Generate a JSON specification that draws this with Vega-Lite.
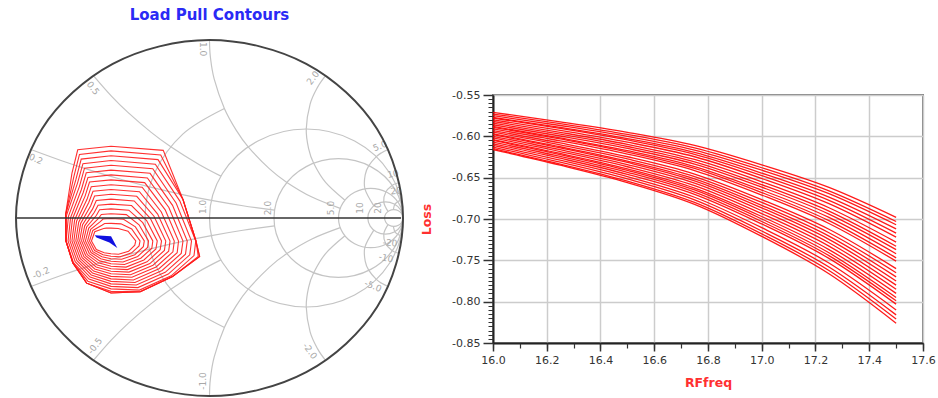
{
"$schema":"https://vega.github.io/schema/vega-lite/v6.json",
"padding":{"left":12,"top":8,"right":1,"bottom":0},
"background":"white",
"spacing":12,
"config":{"view":{"stroke":null},"font":"DejaVu Sans","axis":{"labelFont":"DejaVu Sans","titleFont":"DejaVu Sans"},
"locale":{"number":{"decimal":".","thousands":",","grouping":[3],"currency":["$",""],"minus":"-"}}},
"datasets":{
"rc":[
{"p":"r1","gx":1,"gy":0},{"p":"r1","gx":0.933,"gy":0.25},{"p":"r1","gx":0.75,"gy":0.433},{"p":"r1","gx":0.5,"gy":0.5},{"p":"r1","gx":0.25,"gy":0.433},{"p":"r1","gx":0.067,"gy":0.25},{"p":"r1","gx":0,"gy":0},{"p":"r1","gx":0.067,"gy":-0.25},{"p":"r1","gx":0.25,"gy":-0.433},{"p":"r1","gx":0.5,"gy":-0.5},{"p":"r1","gx":0.75,"gy":-0.433},{"p":"r1","gx":0.933,"gy":-0.25},
{"p":"r2","gx":1,"gy":0},{"p":"r2","gx":0.9554,"gy":0.1667},{"p":"r2","gx":0.8333,"gy":0.2887},{"p":"r2","gx":0.6667,"gy":0.3333},{"p":"r2","gx":0.5,"gy":0.2887},{"p":"r2","gx":0.378,"gy":0.1667},{"p":"r2","gx":0.3333,"gy":0},{"p":"r2","gx":0.378,"gy":-0.1667},{"p":"r2","gx":0.5,"gy":-0.2887},{"p":"r2","gx":0.6667,"gy":-0.3333},{"p":"r2","gx":0.8333,"gy":-0.2887},{"p":"r2","gx":0.9554,"gy":-0.1667},
{"p":"r5","gx":1,"gy":0},{"p":"r5","gx":0.9776,"gy":0.0833},{"p":"r5","gx":0.9167,"gy":0.1443},{"p":"r5","gx":0.8333,"gy":0.1667},{"p":"r5","gx":0.75,"gy":0.1443},{"p":"r5","gx":0.689,"gy":0.0833},{"p":"r5","gx":0.6667,"gy":0},{"p":"r5","gx":0.689,"gy":-0.0833},{"p":"r5","gx":0.75,"gy":-0.1443},{"p":"r5","gx":0.8333,"gy":-0.1667},{"p":"r5","gx":0.9167,"gy":-0.1443},{"p":"r5","gx":0.9776,"gy":-0.0833},
{"p":"r10","gx":1,"gy":0},{"p":"r10","gx":0.9878,"gy":0.0455},{"p":"r10","gx":0.9546,"gy":0.0787},{"p":"r10","gx":0.9091,"gy":0.0909},{"p":"r10","gx":0.8636,"gy":0.0787},{"p":"r10","gx":0.8304,"gy":0.0455},{"p":"r10","gx":0.8182,"gy":0},{"p":"r10","gx":0.8304,"gy":-0.0455},{"p":"r10","gx":0.8636,"gy":-0.0787},{"p":"r10","gx":0.9091,"gy":-0.0909},{"p":"r10","gx":0.9546,"gy":-0.0787},{"p":"r10","gx":0.9878,"gy":-0.0455},
{"p":"r20","gx":1,"gy":0},{"p":"r20","gx":0.9936,"gy":0.0238},{"p":"r20","gx":0.9762,"gy":0.0412},{"p":"r20","gx":0.9524,"gy":0.0476},{"p":"r20","gx":0.9286,"gy":0.0412},{"p":"r20","gx":0.9112,"gy":0.0238},{"p":"r20","gx":0.9048,"gy":0},{"p":"r20","gx":0.9112,"gy":-0.0238},{"p":"r20","gx":0.9286,"gy":-0.0412},{"p":"r20","gx":0.9524,"gy":-0.0476},{"p":"r20","gx":0.9762,"gy":-0.0412},{"p":"r20","gx":0.9936,"gy":-0.0238}
],
"oc":[
{"gx":1,"gy":0},{"gx":0.866,"gy":0.5},{"gx":0.5,"gy":0.866},{"gx":0,"gy":1},{"gx":-0.5,"gy":0.866},{"gx":-0.866,"gy":0.5},{"gx":-1,"gy":0},{"gx":-0.866,"gy":-0.5},{"gx":-0.5,"gy":-0.866},{"gx":0,"gy":-1},{"gx":0.5,"gy":-0.866},{"gx":0.866,"gy":-0.5}
],
"ar":[
{"p":"r05","gx":0.0773,"gy":0.6154},{"p":"r05","gx":-0.1381,"gy":0.4714},{"p":"r05","gx":-0.2826,"gy":0.2551},{"p":"r05","gx":-0.3333,"gy":0},{"p":"r05","gx":-0.2826,"gy":-0.2551},{"p":"r05","gx":-0.1381,"gy":-0.4714},{"p":"r05","gx":0.0773,"gy":-0.6154},
{"p":"x02","gx":-0.9231,"gy":0.3846},{"p":"x02","gx":-0.76,"gy":0.32},{"p":"x02","gx":-0.6216,"gy":0.2703},{"p":"x02","gx":-0.4497,"gy":0.2148},{"p":"x02","gx":-0.31,"gy":0.1747},{"p":"x02","gx":-0.1281,"gy":0.1289},{"p":"x02","gx":0.0099,"gy":0.099},{"p":"x02","gx":0.1724,"gy":0.069},{"p":"x02","gx":0.3363,"gy":0.0442},
{"p":"xm02","gx":-0.9231,"gy":-0.3846},{"p":"xm02","gx":-0.76,"gy":-0.32},{"p":"xm02","gx":-0.6216,"gy":-0.2703},{"p":"xm02","gx":-0.4497,"gy":-0.2148},{"p":"xm02","gx":-0.31,"gy":-0.1747},{"p":"xm02","gx":-0.1281,"gy":-0.1289},{"p":"xm02","gx":0.0099,"gy":-0.099},{"p":"xm02","gx":0.1724,"gy":-0.069},{"p":"xm02","gx":0.3363,"gy":-0.0442},
{"p":"x05","gx":-0.6,"gy":0.8},{"p":"x05","gx":-0.5068,"gy":0.6849},{"p":"x05","gx":-0.4201,"gy":0.5917},{"p":"x05","gx":-0.3028,"gy":0.4825},{"p":"x05","gx":-0.2,"gy":0.4},{"p":"x05","gx":-0.0566,"gy":0.3019},{"p":"x05","gx":0.0588,"gy":0.2353},
{"p":"xm05","gx":-0.6,"gy":-0.8},{"p":"xm05","gx":-0.5068,"gy":-0.6849},{"p":"xm05","gx":-0.4201,"gy":-0.5917},{"p":"xm05","gx":-0.3028,"gy":-0.4825},{"p":"xm05","gx":-0.2,"gy":-0.4},{"p":"xm05","gx":-0.0566,"gy":-0.3019},{"p":"xm05","gx":0.0588,"gy":-0.2353},
{"p":"x1","gx":0,"gy":1},{"p":"x1","gx":0.0045,"gy":0.905},{"p":"x1","gx":0.0244,"gy":0.7805},{"p":"x1","gx":0.0769,"gy":0.6154},{"p":"x1","gx":0.1385,"gy":0.4923},{"p":"x1","gx":0.2,"gy":0.4},{"p":"x1","gx":0.3103,"gy":0.2759},{"p":"x1","gx":0.4,"gy":0.2},{"p":"x1","gx":0.5294,"gy":0.1176},{"p":"x1","gx":0.6757,"gy":0.0541},
{"p":"xm1","gx":0,"gy":-1},{"p":"xm1","gx":0.0045,"gy":-0.905},{"p":"xm1","gx":0.0244,"gy":-0.7805},{"p":"xm1","gx":0.0769,"gy":-0.6154},{"p":"xm1","gx":0.1385,"gy":-0.4923},{"p":"xm1","gx":0.2,"gy":-0.4},{"p":"xm1","gx":0.3103,"gy":-0.2759},{"p":"xm1","gx":0.4,"gy":-0.2},{"p":"xm1","gx":0.5294,"gy":-0.1176},{"p":"xm1","gx":0.6757,"gy":-0.0541},
{"p":"x2","gx":0.6,"gy":0.8},{"p":"x2","gx":0.5588,"gy":0.7353},{"p":"x2","gx":0.52,"gy":0.64},{"p":"x2","gx":0.5,"gy":0.5},{"p":"x2","gx":0.5122,"gy":0.3902},{"p":"x2","gx":0.5385,"gy":0.3077},{"p":"x2","gx":0.6,"gy":0.2},{"p":"x2","gx":0.7,"gy":0.1},
{"p":"xm2","gx":0.6,"gy":-0.8},{"p":"xm2","gx":0.5588,"gy":-0.7353},{"p":"xm2","gx":0.52,"gy":-0.64},{"p":"xm2","gx":0.5,"gy":-0.5},{"p":"xm2","gx":0.5122,"gy":-0.3902},{"p":"xm2","gx":0.5385,"gy":-0.3077},{"p":"xm2","gx":0.6,"gy":-0.2},{"p":"xm2","gx":0.7,"gy":-0.1},
{"p":"x5","gx":0.9231,"gy":0.3846},{"p":"x5","gx":0.8899,"gy":0.367},{"p":"x5","gx":0.8621,"gy":0.3448},{"p":"x5","gx":0.8235,"gy":0.2941},{"p":"x5","gx":0.8049,"gy":0.2439},{"p":"x5","gx":0.8033,"gy":0.1639},{"p":"x5","gx":0.8493,"gy":0.0685},
{"p":"xm5","gx":0.9231,"gy":-0.3846},{"p":"xm5","gx":0.8899,"gy":-0.367},{"p":"xm5","gx":0.8621,"gy":-0.3448},{"p":"xm5","gx":0.8235,"gy":-0.2941},{"p":"xm5","gx":0.8049,"gy":-0.2439},{"p":"xm5","gx":0.8033,"gy":-0.1639},{"p":"xm5","gx":0.8493,"gy":-0.0685},
{"p":"x10","gx":0.9802,"gy":0.198},{"p":"x10","gx":0.9615,"gy":0.1923},{"p":"x10","gx":0.945,"gy":0.1835},{"p":"x10","gx":0.9118,"gy":0.1471},{"p":"x10","gx":0.9005,"gy":0.0905},{"p":"x10","gx":0.9224,"gy":0.037},
{"p":"xm10","gx":0.9802,"gy":-0.198},{"p":"xm10","gx":0.9615,"gy":-0.1923},{"p":"xm10","gx":0.945,"gy":-0.1835},{"p":"xm10","gx":0.9118,"gy":-0.1471},{"p":"xm10","gx":0.9005,"gy":-0.0905},{"p":"xm10","gx":0.9224,"gy":-0.037},
{"p":"x20","gx":0.995,"gy":0.0998},{"p":"x20","gx":0.9853,"gy":0.0978},{"p":"x20","gx":0.9725,"gy":0.0917},{"p":"x20","gx":0.9578,"gy":0.0768},{"p":"x20","gx":0.9501,"gy":0.0476},
{"p":"xm20","gx":0.995,"gy":-0.0998},{"p":"xm20","gx":0.9853,"gy":-0.0978},{"p":"xm20","gx":0.9725,"gy":-0.0917},{"p":"xm20","gx":0.9578,"gy":-0.0768},{"p":"xm20","gx":0.9501,"gy":-0.0476}
],
"lab":[
{"t":"0.2","gx":-0.897,"gy":0.331,"a":22.6},
{"t":"0.5","gx":-0.602,"gy":0.73,"a":53.1},
{"t":"1.0","gx":-0.034,"gy":0.949,"a":90},
{"t":"2.0","gx":0.535,"gy":0.787,"a":-53.1},
{"t":"5.0","gx":0.881,"gy":0.404,"a":-22.6},
{"t":"10","gx":0.948,"gy":0.247,"a":-11.4},
{"t":"20","gx":0.964,"gy":0.152,"a":-5.7},
{"t":"-0.2","gx":-0.871,"gy":-0.309,"a":-22.6},
{"t":"-0.5","gx":-0.592,"gy":-0.719,"a":-53.1},
{"t":"-1.0","gx":-0.034,"gy":-0.916,"a":-90},
{"t":"-2.0","gx":0.519,"gy":-0.747,"a":53.1},
{"t":"-5.0","gx":0.845,"gy":-0.382,"a":22.6},
{"t":"-10","gx":0.912,"gy":-0.225,"a":11.4},
{"t":"-20","gx":0.933,"gy":-0.14,"a":5.7},
{"t":"1.0","gx":-0.034,"gy":0.062,"a":-90},
{"t":"2.0","gx":0.302,"gy":0.056,"a":-90},
{"t":"5.0","gx":0.628,"gy":0.056,"a":-90},
{"t":"10","gx":0.776,"gy":0.056,"a":-90},
{"t":"20","gx":0.871,"gy":0.056,"a":-90}
],
"ct":[
{"k":0,"gx":-0.381,"gy":-0.129},{"k":0,"gx":-0.386,"gy":-0.153},{"k":0,"gx":-0.418,"gy":-0.187},{"k":0,"gx":-0.47,"gy":-0.204},{"k":0,"gx":-0.509,"gy":-0.201},{"k":0,"gx":-0.544,"gy":-0.195},{"k":0,"gx":-0.585,"gy":-0.177},{"k":0,"gx":-0.61,"gy":-0.129},{"k":0,"gx":-0.593,"gy":-0.077},{"k":0,"gx":-0.547,"gy":-0.059},{"k":0,"gx":-0.533,"gy":-0.057},{"k":0,"gx":-0.509,"gy":-0.057},{"k":0,"gx":-0.472,"gy":-0.059},{"k":0,"gx":-0.421,"gy":-0.074},
{"k":1,"gx":-0.359,"gy":-0.129},{"k":1,"gx":-0.364,"gy":-0.157},{"k":1,"gx":-0.402,"gy":-0.196},{"k":1,"gx":-0.462,"gy":-0.218},{"k":1,"gx":-0.509,"gy":-0.215},{"k":1,"gx":-0.55,"gy":-0.207},{"k":1,"gx":-0.594,"gy":-0.183},{"k":1,"gx":-0.62,"gy":-0.129},{"k":1,"gx":-0.603,"gy":-0.07},{"k":1,"gx":-0.556,"gy":-0.041},{"k":1,"gx":-0.542,"gy":-0.031},{"k":1,"gx":-0.509,"gy":-0.03},{"k":1,"gx":-0.458,"gy":-0.033},{"k":1,"gx":-0.402,"gy":-0.062},
{"k":2,"gx":-0.337,"gy":-0.129},{"k":2,"gx":-0.342,"gy":-0.161},{"k":2,"gx":-0.386,"gy":-0.206},{"k":2,"gx":-0.454,"gy":-0.232},{"k":2,"gx":-0.509,"gy":-0.229},{"k":2,"gx":-0.556,"gy":-0.218},{"k":2,"gx":-0.603,"gy":-0.189},{"k":2,"gx":-0.63,"gy":-0.129},{"k":2,"gx":-0.614,"gy":-0.064},{"k":2,"gx":-0.566,"gy":-0.022},{"k":2,"gx":-0.55,"gy":-0.006},{"k":2,"gx":-0.509,"gy":-0.003},{"k":2,"gx":-0.444,"gy":-0.007},{"k":2,"gx":-0.383,"gy":-0.05},
{"k":3,"gx":-0.315,"gy":-0.129},{"k":3,"gx":-0.32,"gy":-0.165},{"k":3,"gx":-0.371,"gy":-0.216},{"k":3,"gx":-0.447,"gy":-0.247},{"k":3,"gx":-0.509,"gy":-0.243},{"k":3,"gx":-0.562,"gy":-0.229},{"k":3,"gx":-0.612,"gy":-0.194},{"k":3,"gx":-0.641,"gy":-0.129},{"k":3,"gx":-0.624,"gy":-0.057},{"k":3,"gx":-0.575,"gy":-0.004},{"k":3,"gx":-0.559,"gy":0.02},{"k":3,"gx":-0.509,"gy":0.024},{"k":3,"gx":-0.43,"gy":0.019},{"k":3,"gx":-0.364,"gy":-0.038},
{"k":4,"gx":-0.293,"gy":-0.129},{"k":4,"gx":-0.298,"gy":-0.17},{"k":4,"gx":-0.355,"gy":-0.226},{"k":4,"gx":-0.439,"gy":-0.261},{"k":4,"gx":-0.509,"gy":-0.257},{"k":4,"gx":-0.568,"gy":-0.241},{"k":4,"gx":-0.621,"gy":-0.2},{"k":4,"gx":-0.651,"gy":-0.129},{"k":4,"gx":-0.635,"gy":-0.05},{"k":4,"gx":-0.585,"gy":0.014},{"k":4,"gx":-0.568,"gy":0.046},{"k":4,"gx":-0.509,"gy":0.051},{"k":4,"gx":-0.417,"gy":0.044},{"k":4,"gx":-0.345,"gy":-0.026},
{"k":5,"gx":-0.27,"gy":-0.129},{"k":5,"gx":-0.277,"gy":-0.174},{"k":5,"gx":-0.339,"gy":-0.236},{"k":5,"gx":-0.431,"gy":-0.276},{"k":5,"gx":-0.509,"gy":-0.271},{"k":5,"gx":-0.574,"gy":-0.252},{"k":5,"gx":-0.631,"gy":-0.206},{"k":5,"gx":-0.661,"gy":-0.129},{"k":5,"gx":-0.645,"gy":-0.044},{"k":5,"gx":-0.595,"gy":0.032},{"k":5,"gx":-0.576,"gy":0.072},{"k":5,"gx":-0.509,"gy":0.078},{"k":5,"gx":-0.403,"gy":0.07},{"k":5,"gx":-0.325,"gy":-0.014},
{"k":6,"gx":-0.248,"gy":-0.129},{"k":6,"gx":-0.255,"gy":-0.178},{"k":6,"gx":-0.323,"gy":-0.246},{"k":6,"gx":-0.424,"gy":-0.29},{"k":6,"gx":-0.509,"gy":-0.285},{"k":6,"gx":-0.58,"gy":-0.264},{"k":6,"gx":-0.64,"gy":-0.211},{"k":6,"gx":-0.671,"gy":-0.129},{"k":6,"gx":-0.656,"gy":-0.037},{"k":6,"gx":-0.604,"gy":0.051},{"k":6,"gx":-0.585,"gy":0.098},{"k":6,"gx":-0.509,"gy":0.106},{"k":6,"gx":-0.389,"gy":0.096},{"k":6,"gx":-0.306,"gy":-0.002},
{"k":7,"gx":-0.226,"gy":-0.129},{"k":7,"gx":-0.233,"gy":-0.182},{"k":7,"gx":-0.308,"gy":-0.256},{"k":7,"gx":-0.416,"gy":-0.304},{"k":7,"gx":-0.509,"gy":-0.299},{"k":7,"gx":-0.586,"gy":-0.275},{"k":7,"gx":-0.649,"gy":-0.217},{"k":7,"gx":-0.681,"gy":-0.129},{"k":7,"gx":-0.666,"gy":-0.031},{"k":7,"gx":-0.614,"gy":0.069},{"k":7,"gx":-0.594,"gy":0.124},{"k":7,"gx":-0.509,"gy":0.133},{"k":7,"gx":-0.376,"gy":0.122},{"k":7,"gx":-0.287,"gy":0.01},
{"k":8,"gx":-0.204,"gy":-0.129},{"k":8,"gx":-0.211,"gy":-0.186},{"k":8,"gx":-0.292,"gy":-0.265},{"k":8,"gx":-0.408,"gy":-0.319},{"k":8,"gx":-0.509,"gy":-0.313},{"k":8,"gx":-0.593,"gy":-0.286},{"k":8,"gx":-0.658,"gy":-0.223},{"k":8,"gx":-0.691,"gy":-0.129},{"k":8,"gx":-0.676,"gy":-0.024},{"k":8,"gx":-0.624,"gy":0.087},{"k":8,"gx":-0.602,"gy":0.15},{"k":8,"gx":-0.509,"gy":0.16},{"k":8,"gx":-0.362,"gy":0.148},{"k":8,"gx":-0.268,"gy":0.022},
{"k":9,"gx":-0.182,"gy":-0.129},{"k":9,"gx":-0.189,"gy":-0.19},{"k":9,"gx":-0.276,"gy":-0.275},{"k":9,"gx":-0.401,"gy":-0.333},{"k":9,"gx":-0.509,"gy":-0.328},{"k":9,"gx":-0.599,"gy":-0.298},{"k":9,"gx":-0.667,"gy":-0.228},{"k":9,"gx":-0.701,"gy":-0.129},{"k":9,"gx":-0.687,"gy":-0.018},{"k":9,"gx":-0.633,"gy":0.105},{"k":9,"gx":-0.611,"gy":0.176},{"k":9,"gx":-0.509,"gy":0.187},{"k":9,"gx":-0.348,"gy":0.173},{"k":9,"gx":-0.249,"gy":0.034},
{"k":10,"gx":-0.16,"gy":-0.129},{"k":10,"gx":-0.167,"gy":-0.195},{"k":10,"gx":-0.261,"gy":-0.285},{"k":10,"gx":-0.393,"gy":-0.348},{"k":10,"gx":-0.509,"gy":-0.342},{"k":10,"gx":-0.605,"gy":-0.309},{"k":10,"gx":-0.676,"gy":-0.234},{"k":10,"gx":-0.711,"gy":-0.129},{"k":10,"gx":-0.697,"gy":-0.011},{"k":10,"gx":-0.643,"gy":0.123},{"k":10,"gx":-0.62,"gy":0.202},{"k":10,"gx":-0.509,"gy":0.214},{"k":10,"gx":-0.335,"gy":0.199},{"k":10,"gx":-0.229,"gy":0.046},
{"k":11,"gx":-0.137,"gy":-0.129},{"k":11,"gx":-0.146,"gy":-0.199},{"k":11,"gx":-0.245,"gy":-0.295},{"k":11,"gx":-0.385,"gy":-0.362},{"k":11,"gx":-0.509,"gy":-0.356},{"k":11,"gx":-0.611,"gy":-0.32},{"k":11,"gx":-0.685,"gy":-0.24},{"k":11,"gx":-0.721,"gy":-0.129},{"k":11,"gx":-0.708,"gy":-0.004},{"k":11,"gx":-0.653,"gy":0.142},{"k":11,"gx":-0.628,"gy":0.228},{"k":11,"gx":-0.509,"gy":0.242},{"k":11,"gx":-0.321,"gy":0.225},{"k":11,"gx":-0.21,"gy":0.059},
{"k":12,"gx":-0.115,"gy":-0.129},{"k":12,"gx":-0.124,"gy":-0.203},{"k":12,"gx":-0.229,"gy":-0.305},{"k":12,"gx":-0.378,"gy":-0.376},{"k":12,"gx":-0.509,"gy":-0.37},{"k":12,"gx":-0.617,"gy":-0.332},{"k":12,"gx":-0.694,"gy":-0.245},{"k":12,"gx":-0.731,"gy":-0.129},{"k":12,"gx":-0.718,"gy":0.002},{"k":12,"gx":-0.662,"gy":0.16},{"k":12,"gx":-0.637,"gy":0.254},{"k":12,"gx":-0.509,"gy":0.269},{"k":12,"gx":-0.307,"gy":0.251},{"k":12,"gx":-0.191,"gy":0.071},
{"k":13,"gx":-0.093,"gy":-0.129},{"k":13,"gx":-0.102,"gy":-0.207},{"k":13,"gx":-0.213,"gy":-0.315},{"k":13,"gx":-0.37,"gy":-0.391},{"k":13,"gx":-0.509,"gy":-0.384},{"k":13,"gx":-0.623,"gy":-0.343},{"k":13,"gx":-0.703,"gy":-0.251},{"k":13,"gx":-0.741,"gy":-0.129},{"k":13,"gx":-0.729,"gy":0.009},{"k":13,"gx":-0.672,"gy":0.178},{"k":13,"gx":-0.646,"gy":0.28},{"k":13,"gx":-0.509,"gy":0.296},{"k":13,"gx":-0.293,"gy":0.277},{"k":13,"gx":-0.172,"gy":0.083},
{"k":14,"gx":-0.071,"gy":-0.129},{"k":14,"gx":-0.08,"gy":-0.211},{"k":14,"gx":-0.198,"gy":-0.325},{"k":14,"gx":-0.362,"gy":-0.405},{"k":14,"gx":-0.509,"gy":-0.398},{"k":14,"gx":-0.629,"gy":-0.355},{"k":14,"gx":-0.706,"gy":-0.253},{"k":14,"gx":-0.742,"gy":-0.129},{"k":14,"gx":-0.739,"gy":0.015},{"k":14,"gx":-0.682,"gy":0.196},{"k":14,"gx":-0.654,"gy":0.305},{"k":14,"gx":-0.509,"gy":0.323},{"k":14,"gx":-0.28,"gy":0.302},{"k":14,"gx":-0.153,"gy":0.095},
{"k":15,"gx":-0.07,"gy":-0.129},{"k":15,"gx":-0.058,"gy":-0.216},{"k":15,"gx":-0.191,"gy":-0.329},{"k":15,"gx":-0.358,"gy":-0.414},{"k":15,"gx":-0.509,"gy":-0.412},{"k":15,"gx":-0.635,"gy":-0.366},{"k":15,"gx":-0.706,"gy":-0.253},{"k":15,"gx":-0.742,"gy":-0.129},{"k":15,"gx":-0.744,"gy":0.018},{"k":15,"gx":-0.691,"gy":0.214},{"k":15,"gx":-0.663,"gy":0.331},{"k":15,"gx":-0.509,"gy":0.35},{"k":15,"gx":-0.266,"gy":0.328},{"k":15,"gx":-0.137,"gy":0.104},
{"k":16,"gx":-0.07,"gy":-0.129},{"k":16,"gx":-0.051,"gy":-0.217},{"k":16,"gx":-0.191,"gy":-0.329},{"k":16,"gx":-0.358,"gy":-0.414},{"k":16,"gx":-0.509,"gy":-0.421},{"k":16,"gx":-0.635,"gy":-0.366},{"k":16,"gx":-0.706,"gy":-0.253},{"k":16,"gx":-0.742,"gy":-0.129},{"k":16,"gx":-0.744,"gy":0.018},{"k":16,"gx":-0.701,"gy":0.232},{"k":16,"gx":-0.672,"gy":0.357},{"k":16,"gx":-0.509,"gy":0.377},{"k":16,"gx":-0.252,"gy":0.354},{"k":16,"gx":-0.137,"gy":0.104},
{"k":17,"gx":-0.07,"gy":-0.129},{"k":17,"gx":-0.051,"gy":-0.217},{"k":17,"gx":-0.191,"gy":-0.329},{"k":17,"gx":-0.358,"gy":-0.414},{"k":17,"gx":-0.509,"gy":-0.421},{"k":17,"gx":-0.635,"gy":-0.366},{"k":17,"gx":-0.706,"gy":-0.253},{"k":17,"gx":-0.742,"gy":-0.129},{"k":17,"gx":-0.744,"gy":0.018},{"k":17,"gx":-0.711,"gy":0.251},{"k":17,"gx":-0.681,"gy":0.383},{"k":17,"gx":-0.509,"gy":0.403},{"k":17,"gx":-0.239,"gy":0.38},{"k":17,"gx":-0.137,"gy":0.104}
],
"mk":[{"gx":-0.533,"gy":-0.127}],
"ax":[{"gx":-1,"gy":0},{"gx":0.99,"gy":0}],
"loss":[
{"c":1,"f":16,"v":-0.571},{"c":1,"f":16.25,"v":-0.5824},{"c":1,"f":16.5,"v":-0.5951},{"c":1,"f":16.75,"v":-0.611},{"c":1,"f":17,"v":-0.6345},{"c":1,"f":17.25,"v":-0.6618},{"c":1,"f":17.5,"v":-0.698},
{"c":2,"f":16,"v":-0.573},{"c":2,"f":16.25,"v":-0.5847},{"c":2,"f":16.5,"v":-0.5977},{"c":2,"f":16.75,"v":-0.614},{"c":2,"f":17,"v":-0.638},{"c":2,"f":17.25,"v":-0.666},{"c":2,"f":17.5,"v":-0.703},
{"c":3,"f":16,"v":-0.575},{"c":3,"f":16.25,"v":-0.5869},{"c":3,"f":16.5,"v":-0.6001},{"c":3,"f":16.75,"v":-0.6166},{"c":3,"f":17,"v":-0.641},{"c":3,"f":17.25,"v":-0.6694},{"c":3,"f":17.5,"v":-0.707},
{"c":4,"f":16,"v":-0.577},{"c":4,"f":16.25,"v":-0.5892},{"c":4,"f":16.5,"v":-0.6027},{"c":4,"f":16.75,"v":-0.6195},{"c":4,"f":17,"v":-0.6445},{"c":4,"f":17.25,"v":-0.6735},{"c":4,"f":17.5,"v":-0.712},
{"c":5,"f":16,"v":-0.578},{"c":5,"f":16.25,"v":-0.5905},{"c":5,"f":16.5,"v":-0.6044},{"c":5,"f":16.75,"v":-0.6218},{"c":5,"f":17,"v":-0.6475},{"c":5,"f":17.25,"v":-0.6774},{"c":5,"f":17.5,"v":-0.717},
{"c":6,"f":16,"v":-0.58},{"c":6,"f":16.25,"v":-0.5928},{"c":6,"f":16.5,"v":-0.607},{"c":6,"f":16.75,"v":-0.6247},{"c":6,"f":17,"v":-0.651},{"c":6,"f":17.25,"v":-0.6815},{"c":6,"f":17.5,"v":-0.722},
{"c":7,"f":16,"v":-0.582},{"c":7,"f":16.25,"v":-0.5951},{"c":7,"f":16.5,"v":-0.6097},{"c":7,"f":16.75,"v":-0.628},{"c":7,"f":17,"v":-0.655},{"c":7,"f":17.25,"v":-0.6864},{"c":7,"f":17.5,"v":-0.728},
{"c":8,"f":16,"v":-0.584},{"c":8,"f":16.25,"v":-0.5974},{"c":8,"f":16.5,"v":-0.6123},{"c":8,"f":16.75,"v":-0.6309},{"c":8,"f":17,"v":-0.6585},{"c":8,"f":17.25,"v":-0.6905},{"c":8,"f":17.5,"v":-0.733},
{"c":9,"f":16,"v":-0.586},{"c":9,"f":16.25,"v":-0.5996},{"c":9,"f":16.5,"v":-0.6147},{"c":9,"f":16.75,"v":-0.6336},{"c":9,"f":17,"v":-0.6615},{"c":9,"f":17.25,"v":-0.694},{"c":9,"f":17.5,"v":-0.737},
{"c":10,"f":16,"v":-0.588},{"c":10,"f":16.25,"v":-0.6019},{"c":10,"f":16.5,"v":-0.6173},{"c":10,"f":16.75,"v":-0.6365},{"c":10,"f":17,"v":-0.665},{"c":10,"f":17.25,"v":-0.6981},{"c":10,"f":17.5,"v":-0.742},
{"c":11,"f":16,"v":-0.589},{"c":11,"f":16.25,"v":-0.6032},{"c":11,"f":16.5,"v":-0.619},{"c":11,"f":16.75,"v":-0.6388},{"c":11,"f":17,"v":-0.668},{"c":11,"f":17.25,"v":-0.702},{"c":11,"f":17.5,"v":-0.747},
{"c":12,"f":16,"v":-0.591},{"c":12,"f":16.25,"v":-0.6054},{"c":12,"f":16.5,"v":-0.6214},{"c":12,"f":16.75,"v":-0.6414},{"c":12,"f":17,"v":-0.671},{"c":12,"f":17.25,"v":-0.7054},{"c":12,"f":17.5,"v":-0.751},
{"c":13,"f":16,"v":-0.593},{"c":13,"f":16.25,"v":-0.608},{"c":13,"f":16.5,"v":-0.6247},{"c":13,"f":16.75,"v":-0.6456},{"c":13,"f":17,"v":-0.6765},{"c":13,"f":17.25,"v":-0.7124},{"c":13,"f":17.5,"v":-0.76},
{"c":14,"f":16,"v":-0.595},{"c":14,"f":16.25,"v":-0.6103},{"c":14,"f":16.5,"v":-0.6273},{"c":14,"f":16.75,"v":-0.6486},{"c":14,"f":17,"v":-0.68},{"c":14,"f":17.25,"v":-0.7166},{"c":14,"f":17.5,"v":-0.765},
{"c":15,"f":16,"v":-0.597},{"c":15,"f":16.25,"v":-0.6126},{"c":15,"f":16.5,"v":-0.6299},{"c":15,"f":16.75,"v":-0.6515},{"c":15,"f":17,"v":-0.6835},{"c":15,"f":17.25,"v":-0.7207},{"c":15,"f":17.5,"v":-0.77},
{"c":16,"f":16,"v":-0.598},{"c":16,"f":16.25,"v":-0.6139},{"c":16,"f":16.5,"v":-0.6316},{"c":16,"f":16.75,"v":-0.6538},{"c":16,"f":17,"v":-0.6865},{"c":16,"f":17.25,"v":-0.7246},{"c":16,"f":17.5,"v":-0.775},
{"c":17,"f":16,"v":-0.6},{"c":17,"f":16.25,"v":-0.6162},{"c":17,"f":16.5,"v":-0.6342},{"c":17,"f":16.75,"v":-0.6567},{"c":17,"f":17,"v":-0.69},{"c":17,"f":17.25,"v":-0.7287},{"c":17,"f":17.5,"v":-0.78},
{"c":18,"f":16,"v":-0.602},{"c":18,"f":16.25,"v":-0.6185},{"c":18,"f":16.5,"v":-0.6368},{"c":18,"f":16.75,"v":-0.6596},{"c":18,"f":17,"v":-0.6935},{"c":18,"f":17.25,"v":-0.7328},{"c":18,"f":17.5,"v":-0.785},
{"c":19,"f":16,"v":-0.604},{"c":19,"f":16.25,"v":-0.6207},{"c":19,"f":16.5,"v":-0.6393},{"c":19,"f":16.75,"v":-0.6626},{"c":19,"f":17,"v":-0.697},{"c":19,"f":17.25,"v":-0.737},{"c":19,"f":17.5,"v":-0.79},
{"c":20,"f":16,"v":-0.605},{"c":20,"f":16.25,"v":-0.6221},{"c":20,"f":16.5,"v":-0.6411},{"c":20,"f":16.75,"v":-0.6649},{"c":20,"f":17,"v":-0.7},{"c":20,"f":17.25,"v":-0.7409},{"c":20,"f":17.5,"v":-0.795},
{"c":21,"f":16,"v":-0.607},{"c":21,"f":16.25,"v":-0.6243},{"c":21,"f":16.5,"v":-0.6435},{"c":21,"f":16.75,"v":-0.6675},{"c":21,"f":17,"v":-0.703},{"c":21,"f":17.25,"v":-0.7443},{"c":21,"f":17.5,"v":-0.799},
{"c":22,"f":16,"v":-0.609},{"c":22,"f":16.25,"v":-0.6265},{"c":22,"f":16.5,"v":-0.6459},{"c":22,"f":16.75,"v":-0.6701},{"c":22,"f":17,"v":-0.706},{"c":22,"f":17.25,"v":-0.7477},{"c":22,"f":17.5,"v":-0.803},
{"c":23,"f":16,"v":-0.611},{"c":23,"f":16.25,"v":-0.6289},{"c":23,"f":16.5,"v":-0.6488},{"c":23,"f":16.75,"v":-0.6737},{"c":23,"f":17,"v":-0.7105},{"c":23,"f":17.25,"v":-0.7533},{"c":23,"f":17.5,"v":-0.81},
{"c":24,"f":16,"v":-0.613},{"c":24,"f":16.25,"v":-0.6313},{"c":24,"f":16.5,"v":-0.6516},{"c":24,"f":16.75,"v":-0.6769},{"c":24,"f":17,"v":-0.7145},{"c":24,"f":17.25,"v":-0.7581},{"c":24,"f":17.5,"v":-0.816},
{"c":25,"f":16,"v":-0.615},{"c":25,"f":16.25,"v":-0.6335},{"c":25,"f":16.5,"v":-0.6541},{"c":25,"f":16.75,"v":-0.6799},{"c":25,"f":17,"v":-0.718},{"c":25,"f":17.25,"v":-0.7623},{"c":25,"f":17.5,"v":-0.821},
{"c":26,"f":16,"v":-0.616},{"c":26,"f":16.25,"v":-0.6349},{"c":26,"f":16.5,"v":-0.6559},{"c":26,"f":16.75,"v":-0.6822},{"c":26,"f":17,"v":-0.721},{"c":26,"f":17.25,"v":-0.7662},{"c":26,"f":17.5,"v":-0.826}
]
},
"hconcat":[
{
"width":387,"height":356,
"title":{"text":"Load Pull Contours","fontSize":15,"font":"DejaVu Sans","fontWeight":"bold","color":"#2a2af5","anchor":"middle","offset":13},
"layer":[
{"data":{"name":"rc"},"mark":{"type":"line","interpolate":"cardinal-closed","color":"#c4c4c4","strokeWidth":1.2},
"encoding":{"x":{"field":"gx","type":"quantitative","scale":{"domain":[-1,1],"nice":false,"zero":false},"axis":null},"y":{"field":"gy","type":"quantitative","scale":{"domain":[-1,1],"nice":false,"zero":false},"axis":null},"detail":{"field":"p"},"order":{"value":null}}},
{"data":{"name":"ar"},"mark":{"type":"line","interpolate":"cardinal","color":"#c4c4c4","strokeWidth":1.2},
"encoding":{"x":{"field":"gx","type":"quantitative"},"y":{"field":"gy","type":"quantitative"},"detail":{"field":"p"},"order":{"value":null}}},
{"data":{"name":"lab"},"mark":{"type":"text","fontSize":9,"font":"DejaVu Sans","color":"#a8a8a8","align":"center","baseline":"middle"},
"encoding":{"x":{"field":"gx","type":"quantitative"},"y":{"field":"gy","type":"quantitative"},"text":{"field":"t"},"angle":{"field":"a","type":"quantitative","scale":null}}},
{"data":{"name":"ct"},"mark":{"type":"line","interpolate":"linear-closed","color":"#ff1a1a","strokeWidth":1.1,"opacity":0.9},
"encoding":{"x":{"field":"gx","type":"quantitative"},"y":{"field":"gy","type":"quantitative"},"detail":{"field":"k"},"order":{"value":null}}},
{"data":{"name":"mk"},"mark":{"type":"point","shape":"M-0.97,-0.45L0.39,-0.36L0.91,0.61L0.25,0.15L-0.82,-0.25Z","size":580,"filled":true,"color":"#1010e0","opacity":1},
"encoding":{"x":{"field":"gx","type":"quantitative"},"y":{"field":"gy","type":"quantitative"}}},
{"data":{"name":"ax"},"mark":{"type":"line","color":"#333333","strokeWidth":1.6},
"encoding":{"x":{"field":"gx","type":"quantitative"},"y":{"field":"gy","type":"quantitative"}}},
{"data":{"name":"oc"},"mark":{"type":"line","interpolate":"cardinal-closed","color":"#444444","strokeWidth":2},
"encoding":{"x":{"field":"gx","type":"quantitative"},"y":{"field":"gy","type":"quantitative"},"order":{"value":null}}}
]
},
{
"spacing":0,
"vconcat":[
{"width":430,"height":48,"data":{"values":[{"s":0}]},"mark":{"type":"point","opacity":0},"encoding":{}},
{
"width":430,"height":248,
"view":{"stroke":"#808080","strokeWidth":2},
"data":{"name":"loss"},
"layer":[
{"mark":{"type":"line","interpolate":"monotone","color":"#ff0000","strokeWidth":1.3,"opacity":0.9},
"encoding":{
"x":{"field":"f","type":"quantitative","scale":{"domain":[16,17.6],"nice":false,"zero":false},
"axis":{"title":"RFfreq","tickCount":8,"format":".1f","labelFlush":false,"grid":true,"gridColor":"#cccccc","gridWidth":1.5,"domainColor":"#222222","domainWidth":2,"tickColor":"#333333","tickWidth":1.5,"tickSize":8,"labelFontSize":11,"labelColor":"#333333","labelPadding":3,"titleColor":"#ff3030","titleFontSize":12.5,"titleFontWeight":"bold","titlePadding":11}},
"y":{"field":"v","type":"quantitative","scale":{"domain":[-0.85,-0.55],"nice":false,"zero":false},
"axis":{"title":"Loss","tickCount":6,"format":".2f","labelFlush":false,"grid":true,"gridColor":"#cccccc","gridWidth":1.5,"domainColor":"#222222","domainWidth":2,"tickColor":"#333333","tickWidth":1.5,"tickSize":10,"labelFontSize":11,"labelColor":"#333333","labelPadding":3,"titleColor":"#ff3030","titleFontSize":12.5,"titleFontWeight":"bold","titlePadding":18}},
"detail":{"field":"c"}}},
{"mark":{"type":"line","opacity":0},
"encoding":{
"x":{"field":"f","type":"quantitative","axis":{"orient":"bottom","tickCount":16,"labels":false,"domain":false,"grid":false,"tickSize":5,"tickColor":"#333333","tickWidth":1.2,"title":null}},
"y":{"field":"v","type":"quantitative","axis":{"orient":"left","tickCount":60,"labels":false,"domain":false,"grid":false,"tickSize":5,"tickColor":"#333333","tickWidth":1,"title":null}},
"detail":{"field":"c"}}}
],
"resolve":{"axis":{"x":"independent","y":"independent"}}
}
]
}
]
}
